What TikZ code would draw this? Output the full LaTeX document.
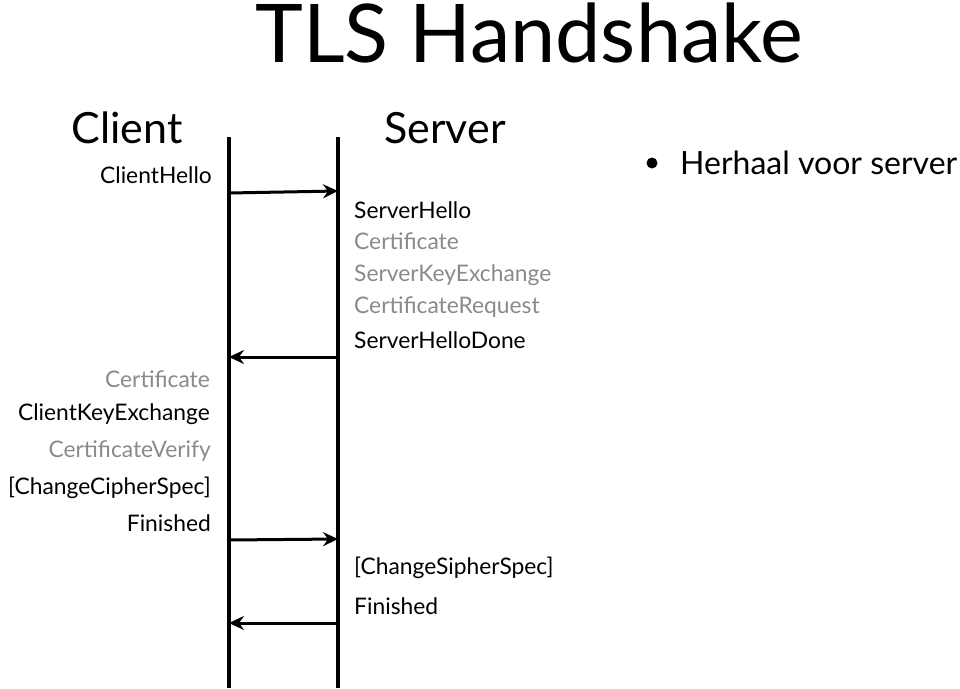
\documentclass[tikz,border=0pt]{standalone}
\usepackage{fontspec}
\setmainfont{Lato}
\usetikzlibrary{arrows.meta}
\definecolor{faint}{HTML}{8A8A8A}
\begin{document}
\begin{tikzpicture}[x=1pt,y=-1pt,
  lifeline/.style={line width=3.4pt},
  msg/.style={line width=3pt,-{Stealth[length=15pt,width=14pt,inset=5pt]}},
  lbl/.style={inner sep=0pt,font=\fontsize{22.8}{27}\selectfont},
  cl/.style={lbl,anchor=base east},
  sv/.style={lbl,anchor=base west},
  opt/.style={text=faint}]
\useasboundingbox (0,0) rectangle (960,688);
\node[font=\fontsize{81}{92}\selectfont,inner sep=0pt,anchor=base] (title) at (529,62) {TLS Handshake};
\node[font=\fontsize{43}{50}\selectfont,inner sep=0pt,anchor=base] (client) at (127,143) {Client};
\node[font=\fontsize{43}{50}\selectfont,inner sep=0pt,anchor=base] (server) at (445,143) {Server};
\coordinate (ct) at (229,137); \coordinate (cb) at (229,688);
\coordinate (st) at (338,137); \coordinate (sb) at (338,688);
\draw[lifeline] (ct) -- (cb);
\draw[lifeline] (st) -- (sb);
% client labels
\node[cl] (ch) at (212,183) {ClientHello};
\node[cl,opt] (ccert) at (210,387) {Certificate};
\node[cl] (cke) at (210,420) {ClientKeyExchange};
\node[cl,opt] (cv) at (211,457) {CertificateVerify};
\node[cl] (ccs) at (211,494) {[ChangeCipherSpec]};
\node[cl] (cfin) at (211,531) {Finished};
% server labels
\node[sv] (sh) at (354,218) {ServerHello};
\node[sv,opt] (scert) at (354,249) {Certificate};
\node[sv,opt] (ske) at (354,281) {ServerKeyExchange};
\node[sv,opt] (scr) at (354,313) {CertificateRequest};
\node[sv] (shd) at (354,348) {ServerHelloDone};
\node[sv] (scs) at (354,574) {[ChangeSipherSpec]};
\node[sv] (sfin) at (354,614) {Finished};
% arrows
\coordinate (a1s) at (229,193); \coordinate (a1e) at (338,191);
\coordinate (a2s) at (338,357); \coordinate (a2e) at (229,357);
\coordinate (a3s) at (229,540); \coordinate (a3e) at (338,539);
\coordinate (a4s) at (338,623); \coordinate (a4e) at (229,623);
\draw[msg] (a1s) -- (a1e);
\draw[msg] (a2s) -- (a2e);
\draw[msg] (a3s) -- (a3e);
\draw[msg] (a4s) -- (a4e);
% bullet
\fill (652,163) circle (5.5) coordinate (dot);
\node[inner sep=0pt,anchor=base west,font=\fontsize{32}{38}\selectfont] (rep) at (680,174) {Herhaal voor server};
\end{tikzpicture}
\end{document}
